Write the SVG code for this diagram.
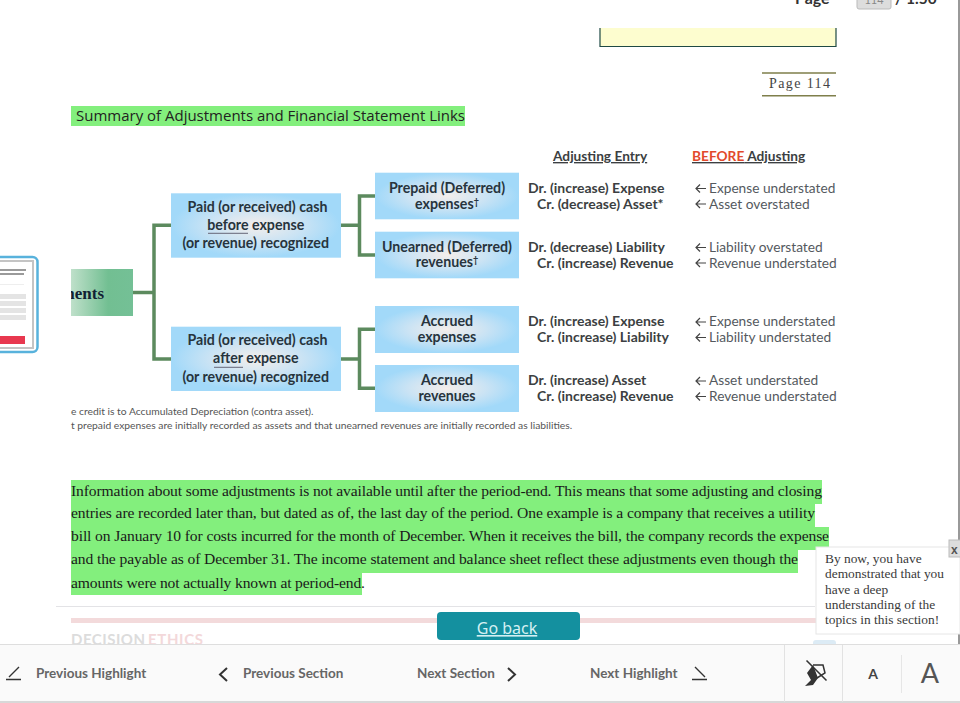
<svg xmlns="http://www.w3.org/2000/svg" width="960" height="703" viewBox="0 0 960 703">
<defs>
<radialGradient id="blue" cx="0.5" cy="0.5" r="0.55"><stop offset="0" stop-color="#f4eeeb"/><stop offset="0.5" stop-color="#cae3f4"/><stop offset="0.9" stop-color="#a2d9f9"/></radialGradient>
<linearGradient id="green" x1="0" x2="1" y1="0" y2="0"><stop offset="0" stop-color="#bfe0ca"/><stop offset="0.6" stop-color="#72bf92"/><stop offset="1" stop-color="#74c096"/></linearGradient>
<clipPath id="cl"><rect x="71" y="268" width="63" height="48"/></clipPath>
<clipPath id="thumb"><rect x="0" y="254" width="40" height="102"/></clipPath>
</defs>
<style>
.s{font-family:"Lato","Liberation Sans",sans-serif}
.b{font-family:"Lato","Liberation Sans",sans-serif;font-weight:700;fill:#27343d;font-size:14.200px}
.c{text-anchor:middle}
.g{font-family:"Lato","Liberation Sans",sans-serif;fill:#54595e;font-size:13.700px}
.d{font-family:"Lato","Liberation Sans",sans-serif;font-weight:700;fill:#3c3f42;font-size:14px}
.t{font-family:"Liberation Serif",serif;font-size:15.600px;fill:#1a1a1a}
.h{fill:#83ef7d}
.p{font-family:"Liberation Serif",serif;font-size:13.400px;fill:#3a3a3a}
.n{font-family:"Lato","Liberation Sans",sans-serif;font-weight:700;font-size:13.500px;fill:#666}
.bx{fill:url(#blue)}
.ar{fill:none;stroke:#444;stroke-width:1.2}
.ic{fill:none;stroke:#333;stroke-width:1.4}
</style>
<rect width="960" height="703" fill="#fff"/>
<rect x="958" y="0" width="2" height="703" fill="#999"/>

<g id="top-bar">
<text x="795" y="4" class="s" font-size="16" font-weight="700" fill="#333">Page</text>
<rect x="857" y="-6" width="34" height="15" rx="2" fill="#ddd" stroke="#bbb"/>
<text x="874" y="4" class="s c" font-size="11" fill="#888">114</text>
<text x="895" y="4" class="s" font-size="15.500" font-weight="700" fill="#333">/ 1.50</text>
</g>
<g id="note-box">
<rect x="600" y="28" width="236" height="18" fill="#fdfdcf"/>
<path d="M600 28V46.500H836V28" fill="none" stroke="#1f4a44" stroke-width="1.200"/>
</g>
<g id="page-number">
<path d="M762 73H836M762 95.700H836" stroke="#7f7f4b" stroke-width="1.500"/>
<text x="769" y="88" font-family="'Liberation Serif',serif" font-size="14" fill="#444" textLength="61">Page 114</text>
</g>
<g id="title">
<rect x="71" y="106" width="394" height="20" class="h"/>
<text x="76" y="121" font-family="'Open Sans','Liberation Sans',sans-serif" font-size="15" fill="#222" textLength="389">Summary of Adjustments and Financial Statement Links</text>
</g>

<g id="connectors" fill="none" stroke="#5c8a5e" stroke-width="3.500">
<path d="M133 292.500H154M171 225.300H154V359H171"/>
<path d="M341 225.300H359.500M375 196H359.500V255H375"/>
<path d="M341 359H359.500M375 329.300H359.500V388.300H375"/>
</g>

<g id="root"><rect x="71" y="269" width="62" height="47" fill="url(#green)"/>
<text x="104" y="299" clip-path="url(#cl)" text-anchor="end" font-family="'Liberation Serif',serif" font-weight="700" font-size="17" fill="#123">nents</text></g>

<g id="n-before"><rect x="171" y="193.300" width="170" height="64.400" class="bx"/>
<text x="257.500" y="211.700" class="b c">Paid (or received) cash</text>
<text x="255.800" y="230" class="b c">before expense</text>
<text x="255.700" y="248" class="b c">(or revenue) recognized</text>
<path d="M208 233.300H248" stroke="#667" stroke-width="1"/></g>
<g id="n-after"><rect x="171" y="326.700" width="170" height="64.300" class="bx"/>
<text x="257.500" y="345" class="b c">Paid (or received) cash</text>
<text x="255.800" y="363.300" class="b c">after expense</text>
<text x="255.700" y="381.700" class="b c">(or revenue) recognized</text>
<path d="M214 367.300H243" stroke="#667" stroke-width="1"/></g>
<g id="n-prepaid"><rect x="375" y="172.700" width="144" height="46.600" class="bx"/>
<text x="447" y="192.700" class="b c">Prepaid (Deferred)</text>
<text x="447" y="208.700" class="b c">expenses<tspan font-size="9" dy="-4">†</tspan></text></g>
<g id="n-unearned"><rect x="375" y="231.700" width="144" height="46.600" class="bx"/>
<text x="447" y="251.700" class="b c">Unearned (Deferred)</text>
<text x="447" y="267.300" class="b c">revenues<tspan font-size="9" dy="-4">†</tspan></text></g>
<g id="n-accr-exp"><rect x="375" y="306" width="144" height="47" class="bx"/>
<text x="447" y="326" class="b c">Accrued</text>
<text x="447" y="342" class="b c">expenses</text></g>
<g id="n-accr-rev"><rect x="375" y="365" width="144" height="47" class="bx"/>
<text x="447" y="385" class="b c">Accrued</text>
<text x="447" y="401" class="b c">revenues</text></g>

<g id="table-heads">
<text x="553" y="161" class="d" style="font-size:13.700px" text-decoration="underline">Adjusting Entry</text>
<text x="692" y="161" class="d" style="font-size:13.700px" text-decoration="underline"><tspan fill="#e2492b">BEFORE</tspan> Adjusting</text>
</g>
<g id="entries">
<text x="528" y="193" class="d">Dr. (increase) Expense</text>
<text x="537" y="209" class="d">Cr. (decrease) Asset*</text>
<text x="528" y="252" class="d">Dr. (decrease) Liability</text>
<text x="537" y="268" class="d">Cr. (increase) Revenue</text>
<text x="528" y="326" class="d">Dr. (increase) Expense</text>
<text x="537" y="342" class="d">Cr. (increase) Liability</text>
<text x="528" y="385" class="d">Dr. (increase) Asset</text>
<text x="537" y="401" class="d">Cr. (increase) Revenue</text>
</g>
<g id="effects">
<text x="709" y="193" class="g">Expense understated</text>
<text x="709" y="209" class="g">Asset overstated</text>
<text x="709" y="252" class="g">Liability overstated</text>
<text x="709" y="268" class="g">Revenue understated</text>
<text x="709" y="326" class="g">Expense understated</text>
<text x="709" y="342" class="g">Liability understated</text>
<text x="709" y="385" class="g">Asset understated</text>
<text x="709" y="401" class="g">Revenue understated</text>
<path class="ar" d="M706 188.500H696M700 184.500L696 188.500L700 192.500M706 204H696M700 200L696 204L700 208M706 247.500H696M700 243.500L696 247.500L700 251.500M706 263H696M700 259L696 263L700 267M706 322H696M700 318L696 322L700 326M706 337.500H696M700 333.500L696 337.500L700 341.500M706 381H696M700 377L696 381L700 385M706 396.500H696M700 392.500L696 396.500L700 400.500"/>
</g>
<g id="footnotes">
<text x="71" y="415" class="s" font-size="10.300" fill="#555">e credit is to Accumulated Depreciation (contra asset).</text>
<text x="71" y="429" class="s" font-size="10.300" fill="#555">t prepaid expenses are initially recorded as assets and that unearned revenues are initially recorded as liabilities.</text>
</g>

<g id="thumbnail" clip-path="url(#thumb)">
<rect x="-20" y="257" width="57.500" height="95" rx="5" fill="#fff" stroke="#58b2dc" stroke-width="2.500"/>
<rect x="-10" y="261" width="43" height="87" fill="#fff" stroke="#c4c4c4" stroke-width="2"/>
<rect x="0" y="269" width="26" height="2" fill="#9a9a9a"/>
<rect x="0" y="273" width="24" height="2" fill="#9a9a9a"/>
<rect x="0" y="284" width="24" height="1" fill="#eee"/>
<rect x="0" y="294" width="26" height="5" fill="#e4e4e4"/>
<rect x="0" y="301" width="26" height="5" fill="#e4e4e4"/>
<rect x="0" y="308" width="26" height="5" fill="#e4e4e4"/>
<rect x="0" y="315" width="26" height="5" fill="#e4e4e4"/>
<rect x="0" y="336" width="25" height="8" fill="#e8384f"/>
</g>

<g id="paragraph">
<rect x="71" y="480" width="751" height="24" class="h"/>
<rect x="71" y="504" width="744" height="23" class="h"/>
<rect x="71" y="527" width="758" height="23" class="h"/>
<rect x="71" y="550" width="727" height="23" class="h"/>
<rect x="71" y="573" width="291" height="22" class="h"/>
<text x="71" y="495.700" class="t" textLength="751">Information about some adjustments is not available until after the period-end. This means that some adjusting and closing</text>
<text x="71" y="518" class="t" textLength="744">entries are recorded later than, but dated as of, the last day of the period. One example is a company that receives a utility</text>
<text x="71" y="541" class="t" textLength="758">bill on January 10 for costs incurred for the month of December. When it receives the bill, the company records the expense</text>
<text x="71" y="564" class="t" textLength="727">and the payable as of December 31. The income statement and balance sheet reflect these adjustments even though the</text>
<text x="71" y="587.700" class="t" textLength="294">amounts were not actually known at period-end.</text>
</g>

<g id="lower-section">
<path d="M56 606.500H815" stroke="#e3e3e6" stroke-width="1"/>
<rect x="71" y="618" width="745" height="5" fill="#f3dadb"/>
<text x="71" y="645" class="s" font-size="15" font-weight="700" fill="#dcdcdc" textLength="74">DECISION</text>
<text x="148" y="645" class="s" font-size="15" font-weight="700" fill="#f3d8da" textLength="55">ETHICS</text>
<rect x="813" y="640" width="23" height="10" rx="3" fill="#dcebf5"/>
</g>
<g id="go-back">
<rect x="437" y="612" width="143" height="28" rx="4" fill="#14909f"/>
<text x="507" y="634" class="c" font-family="'Noto Sans','Open Sans',sans-serif" font-size="16" fill="#d5f0f3" text-decoration="underline">Go back</text>
</g>
<g id="popup">
<rect x="816" y="547" width="144" height="87" fill="#fff" stroke="#e6e6e6"/>
<text x="825" y="563" class="p">By now, you have</text>
<text x="825" y="578" class="p">demonstrated that you</text>
<text x="825" y="594" class="p">have a deep</text>
<text x="825" y="609" class="p">understanding of the</text>
<text x="825" y="624" class="p">topics in this section!</text>
<rect x="949" y="540" width="14" height="17" fill="#ddd" stroke="#bbb"/>
<text x="951" y="554" font-family="'Liberation Sans',sans-serif" font-weight="700" font-size="12" fill="#555">x</text>
</g>

<g id="toolbar">
<rect x="0" y="645" width="960" height="57" fill="#fafafa"/>
<path d="M0 644.500H960" stroke="#dedede"/>
<path d="M0 702H960" stroke="#d8d8d8" stroke-width="2"/>
<path d="M784.500 645V702M842.500 645V702" stroke="#e2e2e2"/>
<path d="M901.500 655V693" stroke="#e6e6e6"/>
<path class="ic" d="M6 679.500H21M9 677L19 667"/>
<text x="36" y="678" class="n">Previous Highlight</text>
<path d="M227 668L220 674.500L227 681" fill="none" stroke="#333" stroke-width="2"/>
<text x="243" y="678" class="n">Previous Section</text>
<text x="417" y="678" class="n">Next Section</text>
<path d="M508 668L515 674.500L508 681" fill="none" stroke="#333" stroke-width="2"/>
<text x="590" y="678" class="n">Next Highlight</text>
<path class="ic" d="M692 679.500H707M695 667L705 677"/>
<g id="highlighter-off">
<path d="M813 665H823L825 673L817 678" fill="none" stroke="#333" stroke-width="1.500"/>
<path d="M813 665L807 673L811 680L805 686L813 685L818 678Z" fill="#333"/>
<path d="M806.500 660.500L826.500 680.500" stroke="#333" stroke-width="1.600"/>
</g>
<text x="873" y="679" class="s c" font-size="14" font-weight="700" fill="#444">A</text>
<text x="930" y="683" class="s c" font-size="27" fill="#555">A</text>
</g>
</svg>
